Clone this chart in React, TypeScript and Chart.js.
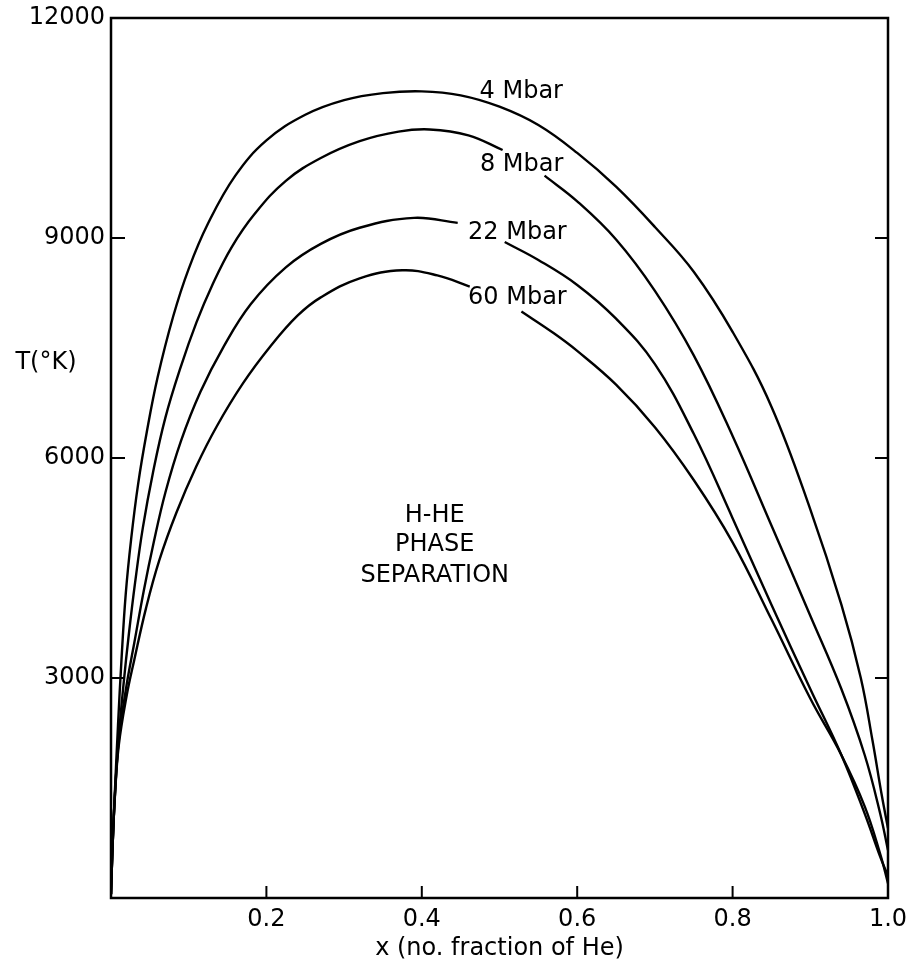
import React, { useEffect, useRef } from 'react';
import { Chart, registerables } from 'chart.js';

Chart.register(...registerables);

// ---- data (x = number fraction of He, T in K) ----
const x4 = [0, 0.002, 0.005, 0.009, 0.0135, 0.019, 0.026, 0.035, 0.046, 0.06, 0.08, 0.1, 0.125, 0.16, 0.2, 0.25, 0.3, 0.35, 0.4, 0.45, 0.5, 0.55, 0.6, 0.65, 0.7, 0.75, 0.8, 0.85, 0.9, 0.94, 0.965, 0.98, 0.992, 1.0];
const t4 = [50, 700, 1450, 2350, 3250, 4150, 4900, 5650, 6350, 7100, 7930, 8580, 9200, 9850, 10330, 10680, 10880, 10975, 11000, 10945, 10790, 10540, 10160, 9700, 9150, 8540, 7720, 6700, 5300, 4000, 3000, 2150, 1400, 950];

const x8 = [0, 0.002, 0.005, 0.01, 0.016, 0.023, 0.031, 0.041, 0.054, 0.07, 0.09, 0.11, 0.13, 0.155, 0.185, 0.225, 0.27, 0.32, 0.37, 0.41, 0.46, 0.504, 0.531, 0.558, 0.6, 0.65, 0.7, 0.75, 0.8, 0.85, 0.9, 0.94, 0.97, 0.99, 1.0];
const t8 = [50, 700, 1400, 2200, 2900, 3600, 4300, 5050, 5800, 6550, 7250, 7850, 8350, 8870, 9330, 9780, 10090, 10320, 10450, 10480, 10400, 10200, null, 9850, 9500, 8980, 8280, 7400, 6300, 5080, 3850, 2850, 1950, 1150, 650];

const x22 = [0, 0.002, 0.005, 0.01, 0.02, 0.03, 0.042, 0.055, 0.07, 0.09, 0.115, 0.145, 0.18, 0.225, 0.27, 0.32, 0.39, 0.4462, 0.476, 0.5067, 0.55, 0.6, 0.65, 0.7, 0.75, 0.8, 0.85, 0.9, 0.94, 0.97, 0.99, 1.0];
const t22 = [50, 700, 1400, 2150, 2900, 3480, 4180, 4850, 5530, 6230, 6900, 7520, 8100, 8600, 8920, 9140, 9274, 9206, null, 8945, 8700, 8360, 7900, 7280, 6330, 5180, 4000, 2850, 1950, 1150, 560, 300];

const x60 = [0, 0.002, 0.005, 0.01, 0.02, 0.03, 0.045, 0.062, 0.084, 0.11, 0.136, 0.17, 0.205, 0.24, 0.27, 0.32, 0.375, 0.42, 0.4617, 0.495, 0.5282, 0.57, 0.6, 0.65, 0.7, 0.75, 0.8, 0.85, 0.9, 0.94, 0.97, 0.99, 1.0];
const t60 = [50, 700, 1380, 2080, 2750, 3250, 3950, 4600, 5250, 5890, 6430, 7020, 7520, 7940, 8190, 8450, 8560, 8490, 8338, null, 7997, 7700, 7460, 7000, 6420, 5700, 4850, 3800, 2720, 1950, 1250, 600, 200];

const seriesX = [x4, x8, x22, x60];
const seriesT = [t4, t8, t22, t60];

const curveLabels = ['4 Mbar', '8 Mbar', '22 Mbar', '60 Mbar'];
const curveLabelX = [0.528, 0.5285, 0.523, 0.523];
const curveLabelT = [10991, 9996, 9069, 8184];

const regionLines = ['H-HE', 'PHASE', 'SEPARATION'];
const regionX = 0.4166;
const regionT = [5212, 4821, 4399];

const xTickValues = [0.2, 0.4, 0.6, 0.8, 1.0];
const yTickValues = [3000, 6000, 9000, 12000];

const xTitle = 'x (no. fraction of He)';
const yTitle = 'T(°K)';
const yTitleT = 7300;

const FONT = 'DejaVu Sans';

const decorPlugin = {
  id: 'decor',
  afterDraw(chart: any) {
    const { ctx, chartArea } = chart;
    const xs = chart.scales.x;
    const ys = chart.scales.y;
    const { left, right, top, bottom } = chartArea;
    ctx.save();
    ctx.strokeStyle = '#000';
    ctx.lineWidth = 2.5;
    ctx.beginPath();
    ctx.rect(left, top, right - left, bottom - top);
    ctx.stroke();
    // inward tick marks
    ctx.lineWidth = 2;
    ctx.beginPath();
    yTickValues.forEach((v) => {
      const py = ys.getPixelForValue(v);
      ctx.moveTo(left, py);
      ctx.lineTo(left + 14, py);
      ctx.moveTo(right, py);
      ctx.lineTo(right - 13, py);
    });
    xTickValues.forEach((v) => {
      const px = xs.getPixelForValue(v);
      ctx.moveTo(px, bottom);
      ctx.lineTo(px, bottom - 12);
    });
    ctx.stroke();
    // texts
    ctx.fillStyle = '#000';
    ctx.font = `24px "${FONT}"`;
    ctx.textAlign = 'center';
    ctx.textBaseline = 'middle';
    curveLabels.forEach((s, i) => {
      ctx.fillText(s, xs.getPixelForValue(curveLabelX[i]), ys.getPixelForValue(curveLabelT[i]));
    });
    regionLines.forEach((s, i) => {
      ctx.fillText(s, xs.getPixelForValue(regionX), ys.getPixelForValue(regionT[i]));
    });
    ctx.fillText(yTitle, left - 65, ys.getPixelForValue(yTitleT));
    ctx.restore();
  },
};

export default function App() {
  const ref = useRef<HTMLCanvasElement>(null);
  useEffect(() => {
    if (!ref.current) return;
    const datasets = seriesX.map((xs, i) => ({
      label: curveLabels[i],
      data: xs.map((x, j) => ({ x, y: seriesT[i][j] })),
      showLine: true,
      borderColor: '#000',
      borderWidth: 2.4,
      pointRadius: 0,
      fill: false,
      spanGaps: false,
      tension: 0.4,
    }));
    const chart = new Chart(ref.current, {
      type: 'scatter',
      data: { datasets },
      plugins: [decorPlugin],
      options: {
        animation: false,
        responsive: true,
        maintainAspectRatio: false,
        layout: { padding: { top: 18, right: 21, left: 0, bottom: 0 } },
        plugins: { legend: { display: false }, tooltip: { enabled: false } },
        scales: {
          x: {
            type: 'linear',
            min: 0,
            max: 1,
            afterFit: (s: any) => { s.height = 68; s.paddingLeft = 0; s.paddingRight = 0; },
            afterBuildTicks: (s: any) => { s.ticks = [0, ...xTickValues].map((v) => ({ value: v })); },
            grid: { display: false, drawTicks: false },
            border: { display: false },
            ticks: {
              autoSkip: false,
              maxRotation: 0,
              padding: 7,
              color: '#000',
              font: { family: FONT, size: 24 },
              callback: (v: any) => (v === 0 ? '' : Number(v).toFixed(1)),
            },
            title: {
              display: true,
              text: xTitle,
              color: '#000',
              font: { family: FONT, size: 24 },
              padding: { top: 0, bottom: 3 },
            },
          },
          y: {
            type: 'linear',
            min: 0,
            max: 12000,
            afterFit: (s: any) => { s.width = 111; s.paddingTop = 0; s.paddingBottom = 0; },
            afterBuildTicks: (s: any) => { s.ticks = [0, ...yTickValues].map((v) => ({ value: v })); },
            grid: { display: false, drawTicks: false },
            border: { display: false },
            ticks: {
              autoSkip: false,
              padding: 6,
              color: '#000',
              font: { family: FONT, size: 24 },
              callback: (v: any) => (v === 0 ? '' : String(v)),
            },
          },
        },
      },
    });
    return () => chart.destroy();
  }, []);
  return (
    <div style={{ position: 'fixed', left: 0, top: 0, width: 909, height: 966, background: '#fff' }}>
      <canvas ref={ref} />
    </div>
  );
}
